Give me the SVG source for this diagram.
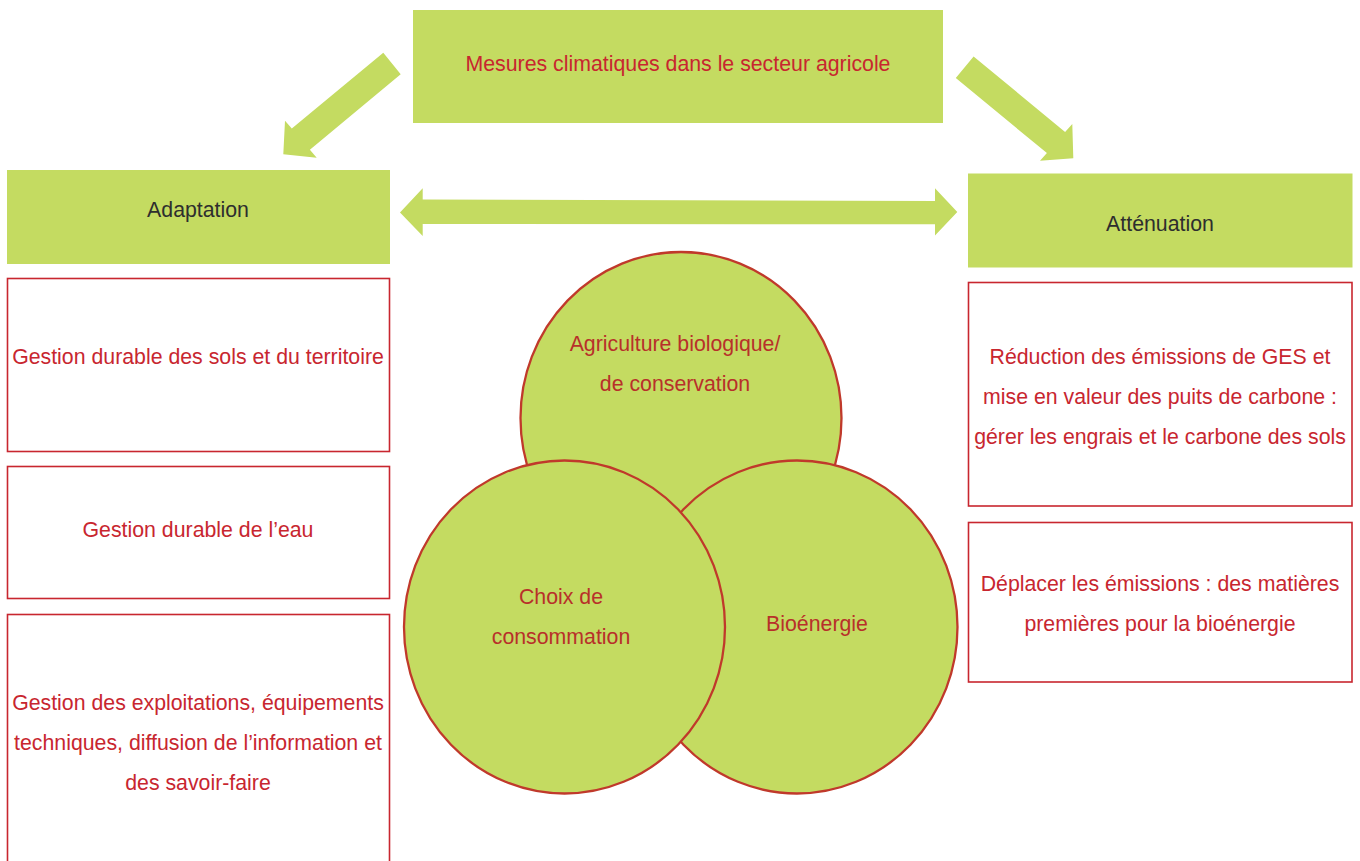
<svg xmlns="http://www.w3.org/2000/svg" width="1360" height="861" viewBox="0 0 1360 861">
<style>
.g{fill:#c4db61}
.rb{fill:#fff;stroke:#c8262f;stroke-width:1.6}
.c{fill:#c4db61;stroke:#c0392b;stroke-width:2.3}
text{font-family:"Liberation Sans",Arial,sans-serif;font-size:21.3px;text-anchor:middle}
.t{fill:#c8262f}
.ct{fill:#b8302a}
.h{fill:#2e2e2e}
</style>
<rect width="1360" height="861" fill="#fff"/>
<g id="connectors" class="g">
<polygon points="383.3,52.7 291.8,128.6 285,120.7 283.3,154.3 316.7,157.7 309.9,149.8 400.7,74.3"/>
<polygon points="973.6,56.4 1065.1,131.9 1072.3,124 1073.3,158.3 1040,160.7 1046.9,153.1 955.8,78"/>
<polygon points="400,212.5 422.7,188.3 422.7,199.5 935,201 935,188.3 957.3,212 935,235.5 935,224.3 422.7,224 422.7,236"/>
</g>
<g id="top">
<rect class="g" x="413" y="10" width="530" height="113"/>
<text class="t" x="678" y="71">Mesures climatiques dans le secteur agricole</text>
</g>
<g id="adaptation">
<rect class="g" x="7" y="170" width="383" height="94"/>
<text class="h" x="198" y="217">Adaptation</text>
</g>
<g id="attenuation">
<rect class="g" x="968" y="173.5" width="384.5" height="94"/>
<text class="h" x="1160" y="231">Atténuation</text>
</g>
<g id="a1">
<rect class="rb" x="7.5" y="278.5" width="382" height="173"/>
<text class="t" x="198" y="364">Gestion durable des sols et du territoire</text>
</g>
<g id="a2">
<rect class="rb" x="7.5" y="466.5" width="382" height="132"/>
<text class="t" x="198" y="537">Gestion durable de l’eau</text>
</g>
<g id="a3">
<rect class="rb" x="7.5" y="614.5" width="382" height="260"/>
<text class="t" x="198" y="710">Gestion des exploitations, équipements</text>
<text class="t" x="198" y="750">techniques, diffusion de l’information et</text>
<text class="t" x="198" y="790">des savoir-faire</text>
</g>
<g id="m1">
<rect class="rb" x="968.5" y="282.5" width="383.5" height="223.5"/>
<text class="t" x="1160" y="364">Réduction des émissions de GES et</text>
<text class="t" x="1160" y="404">mise en valeur des puits de carbone :</text>
<text class="t" x="1160" y="444">gérer les engrais et le carbone des sols</text>
</g>
<g id="m2">
<rect class="rb" x="968.5" y="522.5" width="383.5" height="159.5"/>
<text class="t" x="1160" y="591">Déplacer les émissions : des matières</text>
<text class="t" x="1160" y="631">premières pour la bioénergie</text>
</g>
<g id="c-agri">
<ellipse class="c" cx="681" cy="418" rx="160.5" ry="166"/>
<text class="ct" x="675" y="351">Agriculture biologique/</text>
<text class="ct" x="675" y="391">de conservation</text>
</g>
<g id="c-bio">
<ellipse class="c" cx="797" cy="627" rx="160.5" ry="166.5"/>
<text class="ct" x="817" y="631">Bioénergie</text>
</g>
<g id="c-choix">
<ellipse class="c" cx="564.5" cy="627" rx="160.5" ry="166.5"/>
<text class="ct" x="561" y="604">Choix de</text>
<text class="ct" x="561" y="644">consommation</text>
</g>
</svg>
